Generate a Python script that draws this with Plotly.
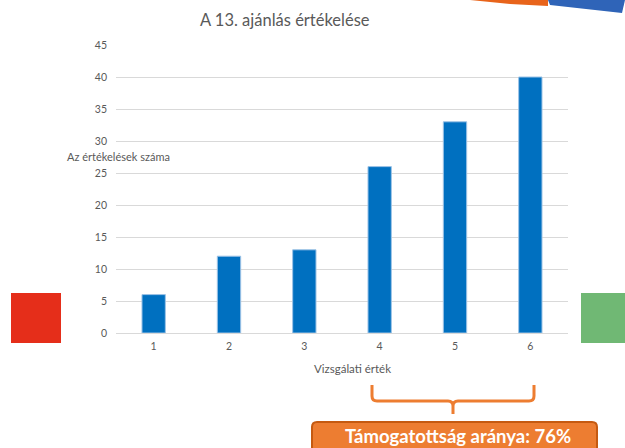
import plotly.graph_objects as go

categories = ["1", "2", "3", "4", "5", "6"]
counts = [6, 12, 13, 26, 33, 40]
y_ticks = [0, 5, 10, 15, 20, 25, 30, 35, 40, 45]
title_text = "A 13. ajánlás értékelése"
y_title = "Az értékelések száma"
x_title = "Vizsgálati érték"
support_text = "Támogatottság aránya: 76%"

W, H = 625, 448
L, R, T, B = 116, 57, 45, 115
PW, PH = W - L - R, H - T - B


def px(x):
    return (x - L) / PW


def py(y):
    return (H - B - y) / PH


FONT = "Lato, 'Open Sans', sans-serif"
GRAY = "#595959"

fig = go.Figure()
fig.add_trace(go.Bar(
    x=categories, y=counts,
    marker=dict(color="#0070c0", line=dict(color="#9dc3e6", width=1)),
    width=0.31,
))

shapes = []
shapes.append(dict(type="rect", xref="paper", yref="paper",
                   x0=px(11), x1=px(61), y0=py(343), y1=py(293),
                   fillcolor="#e52e1a", line=dict(width=0), layer="above"))
shapes.append(dict(type="rect", xref="paper", yref="paper",
                   x0=px(581), x1=px(640), y0=py(343), y1=py(293),
                   fillcolor="#70b874", line=dict(width=0), layer="above"))


def path(points):
    return "M " + " L ".join(f"{px(a):.5f},{py(b):.5f}" for a, b in points)


br = ("M {} ,{} L {},{} Q {},{} {},{} L {},{} Q {},{} {},{} L {},{} "
      "M {},{} L {},{} Q {},{} {},{} L {},{} Q {},{} {},{}").format(
    px(372), py(385), px(372), py(396), px(372), py(401), px(377), py(401),
    px(448), py(401), px(453), py(401), px(453), py(406), px(453), py(414),
    px(534), py(385), px(534), py(396), px(534), py(401), px(529), py(401),
    px(458), py(401), px(453), py(401), px(453), py(406))
shapes.append(dict(type="path", xref="paper", yref="paper", path=br,
                   line=dict(color="#ed7d31", width=3), layer="above"))

x0b, x1b, y0b, y1b, r = 312, 597, 422, 460, 5
box = ("M {},{} L {},{} Q {},{} {},{} L {},{} L {},{} L {},{} Q {},{} {},{} Z").format(
    px(x0b + r), py(y0b), px(x1b - r), py(y0b), px(x1b), py(y0b), px(x1b), py(y0b + r),
    px(x1b), py(y1b), px(x0b), py(y1b), px(x0b), py(y0b + r), px(x0b), py(y0b),
    px(x0b + r), py(y0b))
shapes.append(dict(type="path", xref="paper", yref="paper", path=box,
                   fillcolor="#ed7d31", line=dict(color="#c55a11", width=2), layer="above"))

shapes.append(dict(type="path", xref="paper", yref="paper",
                   path=path([(470, 0), (548, 0), (548, 6), (510, 4)]) + " Z",
                   fillcolor="#e8641b", line=dict(width=0), layer="above"))
shapes.append(dict(type="path", xref="paper", yref="paper",
                   path=path([(548, 0), (625, 0), (622, 13), (550, 5)]) + " Z",
                   fillcolor="#2f64b8", line=dict(width=0), layer="above"))

common = dict(xref="paper", yref="paper", showarrow=False,
              xanchor="center", yanchor="middle")
annotations = [
    dict(text=title_text, x=px(285), y=py(20),
         font=dict(size=16.5, color=GRAY, family=FONT), **common),
    dict(text=y_title, x=px(118), y=py(156),
         font=dict(size=11, color=GRAY, family=FONT), **common),
    dict(text=x_title, x=px(352), y=py(368),
         font=dict(size=11.5, color=GRAY, family=FONT), **common),
    dict(text="<b>" + support_text + "</b>", x=px(458), y=py(435.5),
         font=dict(size=18.5, color="white", family=FONT), **common),
]

fig.update_layout(
    width=W, height=H,
    margin=dict(l=L, r=R, t=T, b=B),
    paper_bgcolor="white", plot_bgcolor="white",
    showlegend=False,
    shapes=shapes, annotations=annotations,
    font=dict(family=FONT, color=GRAY),
    xaxis=dict(showgrid=False, showline=False, ticks="",
               tickfont=dict(size=10.5, color=GRAY), ticklabelstandoff=5,
               fixedrange=True),
    yaxis=dict(range=[0, 45], tickvals=y_ticks, showgrid=True,
               gridcolor="#d9d9d9", gridwidth=1, zeroline=True,
               zerolinecolor="#d9d9d9", zerolinewidth=1, ticks="",
               tickfont=dict(size=10.5, color=GRAY), ticklabelstandoff=8,
               fixedrange=True),
)

fig.write_html(
    "out.html",
    config={"displayModeBar": False},
    post_script="document.body.style.margin='0';document.body.style.overflow='hidden';",
)
